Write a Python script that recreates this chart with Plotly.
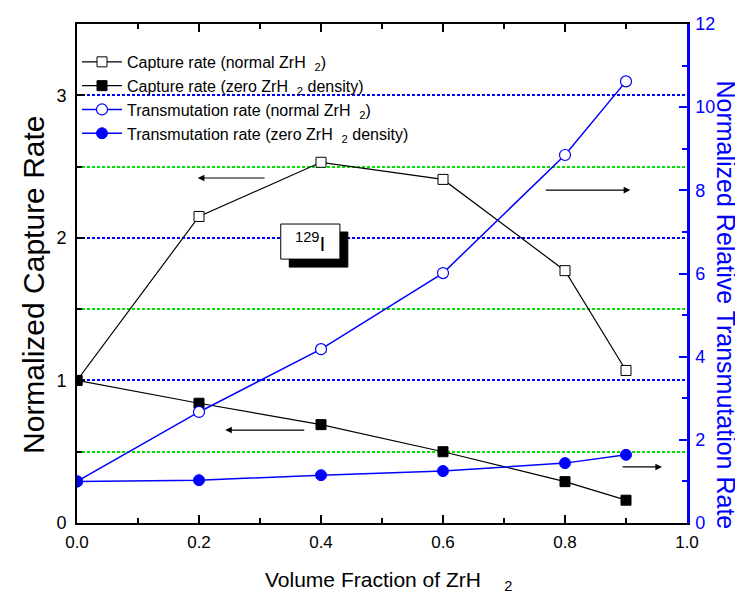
import plotly.graph_objects as go

x_vals = [0.0, 0.2, 0.4, 0.6, 0.8, 0.9]
capture_normal = [1.00, 2.15, 2.53, 2.41, 1.77, 1.07]
capture_zero = [1.00, 0.84, 0.69, 0.50, 0.29, 0.16]
trans_normal = [1.00, 2.67, 4.18, 6.01, 8.85, 10.62]
trans_zero = [1.00, 1.03, 1.15, 1.25, 1.44, 1.64]

NB = "\u00a0"
names = [
    "Capture rate (normal ZrH" + NB * 2 + "<sub>2</sub>)",
    "Capture rate (zero ZrH" + NB * 2 + "<sub>2</sub> density)",
    "Transmutation rate (normal ZrH" + NB * 2 + "<sub>2</sub>)",
    "Transmutation rate (zero ZrH" + NB * 2 + "<sub>2</sub> density)",
]
x_title = "Volume Fraction of ZrH" + NB * 4 + "<sub>2</sub>"
y_title = "Normalized Capture Rate"
y2_title = "Normalized Relative Transmutation Rate"

ARIAL = "Liberation Sans, Arial, sans-serif"
BLUE = "#0000ff"
GREEN = "#00e000"

fig = go.Figure()
fig.add_trace(go.Scatter(x=x_vals, y=capture_normal, name=names[0], mode="lines+markers",
                         line=dict(color="black", width=1.2),
                         marker=dict(symbol="square", size=10, color="white", line=dict(color="black", width=1))))
fig.add_trace(go.Scatter(x=x_vals, y=capture_zero, name=names[1], mode="lines+markers",
                         line=dict(color="black", width=1.2),
                         marker=dict(symbol="square", size=10, color="black", line=dict(color="black", width=1))))
fig.add_trace(go.Scatter(x=x_vals, y=trans_normal, name=names[2], mode="lines+markers", yaxis="y2",
                         line=dict(color=BLUE, width=1.5),
                         marker=dict(symbol="circle", size=11, color="white", line=dict(color=BLUE, width=1.2))))
fig.add_trace(go.Scatter(x=x_vals, y=trans_zero, name=names[3], mode="lines+markers", yaxis="y2",
                         line=dict(color=BLUE, width=1.5),
                         marker=dict(symbol="circle", size=11, color=BLUE, line=dict(color=BLUE, width=1))))

# 129I label box with shadow
fig.add_shape(type="rect", xref="x", yref="y", x0=0.348, x1=0.444, y0=1.795, y1=2.041,
              fillcolor="black", line=dict(color="black", width=1), layer="above")
fig.add_shape(type="rect", xref="x", yref="y", x0=0.334, x1=0.431, y0=1.851, y1=2.097,
              fillcolor="white", line=dict(color="black", width=1), layer="above")
fig.add_annotation(x=0.3825, y=1.97, xref="x", yref="y", text="<sup>129</sup>I", showarrow=False,
                   font=dict(family=ARIAL, size=21, color="black"))

# direction arrows
arrows = [((0.198, 2.42), (0.31, 2.42)),
          ((0.907, 2.335), (0.766, 2.335)),
          ((0.243, 0.652), (0.375, 0.652)),
          ((0.959, 0.393), (0.892, 0.393))]
for (hx, hy), (tx, ty) in arrows:
    fig.add_annotation(x=hx, y=hy, ax=tx, ay=ty, xref="x", yref="y", axref="x", ayref="y",
                       text="", showarrow=True, arrowhead=2, arrowsize=1.1, arrowwidth=1.2,
                       arrowcolor="black")

# axis titles as annotations (paper coordinates)
fig.add_annotation(x=0.305, y=-0.0862, xref="paper", yref="paper", xanchor="left", yanchor="top",
                   text=x_title, showarrow=False, font=dict(family=ARIAL, size=21, color="black"))
fig.add_annotation(x=-0.0705, y=0.477, xref="paper", yref="paper", xanchor="center", yanchor="middle",
                   text=y_title, textangle=-90, showarrow=False,
                   font=dict(family=ARIAL, size=30, color="black"))
fig.add_annotation(x=1.0639, y=0.436, xref="paper", yref="paper", xanchor="center", yanchor="middle",
                   text=y2_title, textangle=90, showarrow=False,
                   font=dict(family=ARIAL, size=25, color=BLUE))

fig.update_layout(
    width=743, height=595,
    margin=dict(l=69, r=64, t=16, b=80),
    plot_bgcolor="white", paper_bgcolor="white",
    font=dict(family=ARIAL, size=17, color="black"),
    showlegend=True,
    legend=dict(x=0.0, y=0.958, xanchor="left", yanchor="top", bgcolor="rgba(0,0,0,0)",
                font=dict(family=ARIAL, size=16, color="black"), itemwidth=40,
                tracegroupgap=0),
    xaxis=dict(range=[0, 1.0], dtick=0.2, tick0=0, tickformat=".1f", ticks="inside", ticklen=8,
               tickwidth=1.5, tickcolor="black", showline=True, linecolor="black", linewidth=2,
               mirror="ticks", showgrid=False, zeroline=False, automargin=False,
               ticklabelstandoff=3,
               minor=dict(dtick=0.1, ticks="inside", ticklen=5, tickwidth=1.5, tickcolor="black"),
               tickfont=dict(family=ARIAL, size=17, color="black")),
    yaxis=dict(range=[0, 3.5], dtick=1, tick0=0, ticks="inside", ticklen=8, tickwidth=1.5,
               tickcolor="black", showline=True, linecolor="black", linewidth=2,
               showgrid=True, gridcolor=BLUE, griddash="3px,2px", gridwidth=1.5, zeroline=False,
               automargin=False, ticklabelstandoff=5,
               minor=dict(dtick=0.5, ticks="inside", ticklen=5, tickwidth=1.5, tickcolor="black",
                          showgrid=True, gridcolor=GREEN, griddash="3px,2px", gridwidth=1.5),
               tickfont=dict(family=ARIAL, size=18, color="black")),
    yaxis2=dict(range=[0, 12], dtick=2, tick0=0, overlaying="y", side="right", ticks="inside",
                ticklen=8, tickwidth=2, tickcolor=BLUE, showline=True, linecolor=BLUE, linewidth=2.5,
                showgrid=False, zeroline=False, automargin=False, ticklabelstandoff=2,
                minor=dict(dtick=1, ticks="inside", ticklen=5, tickwidth=2, tickcolor=BLUE),
                tickfont=dict(family=ARIAL, size=18, color=BLUE)),
)

fig.write_html("out.html")
